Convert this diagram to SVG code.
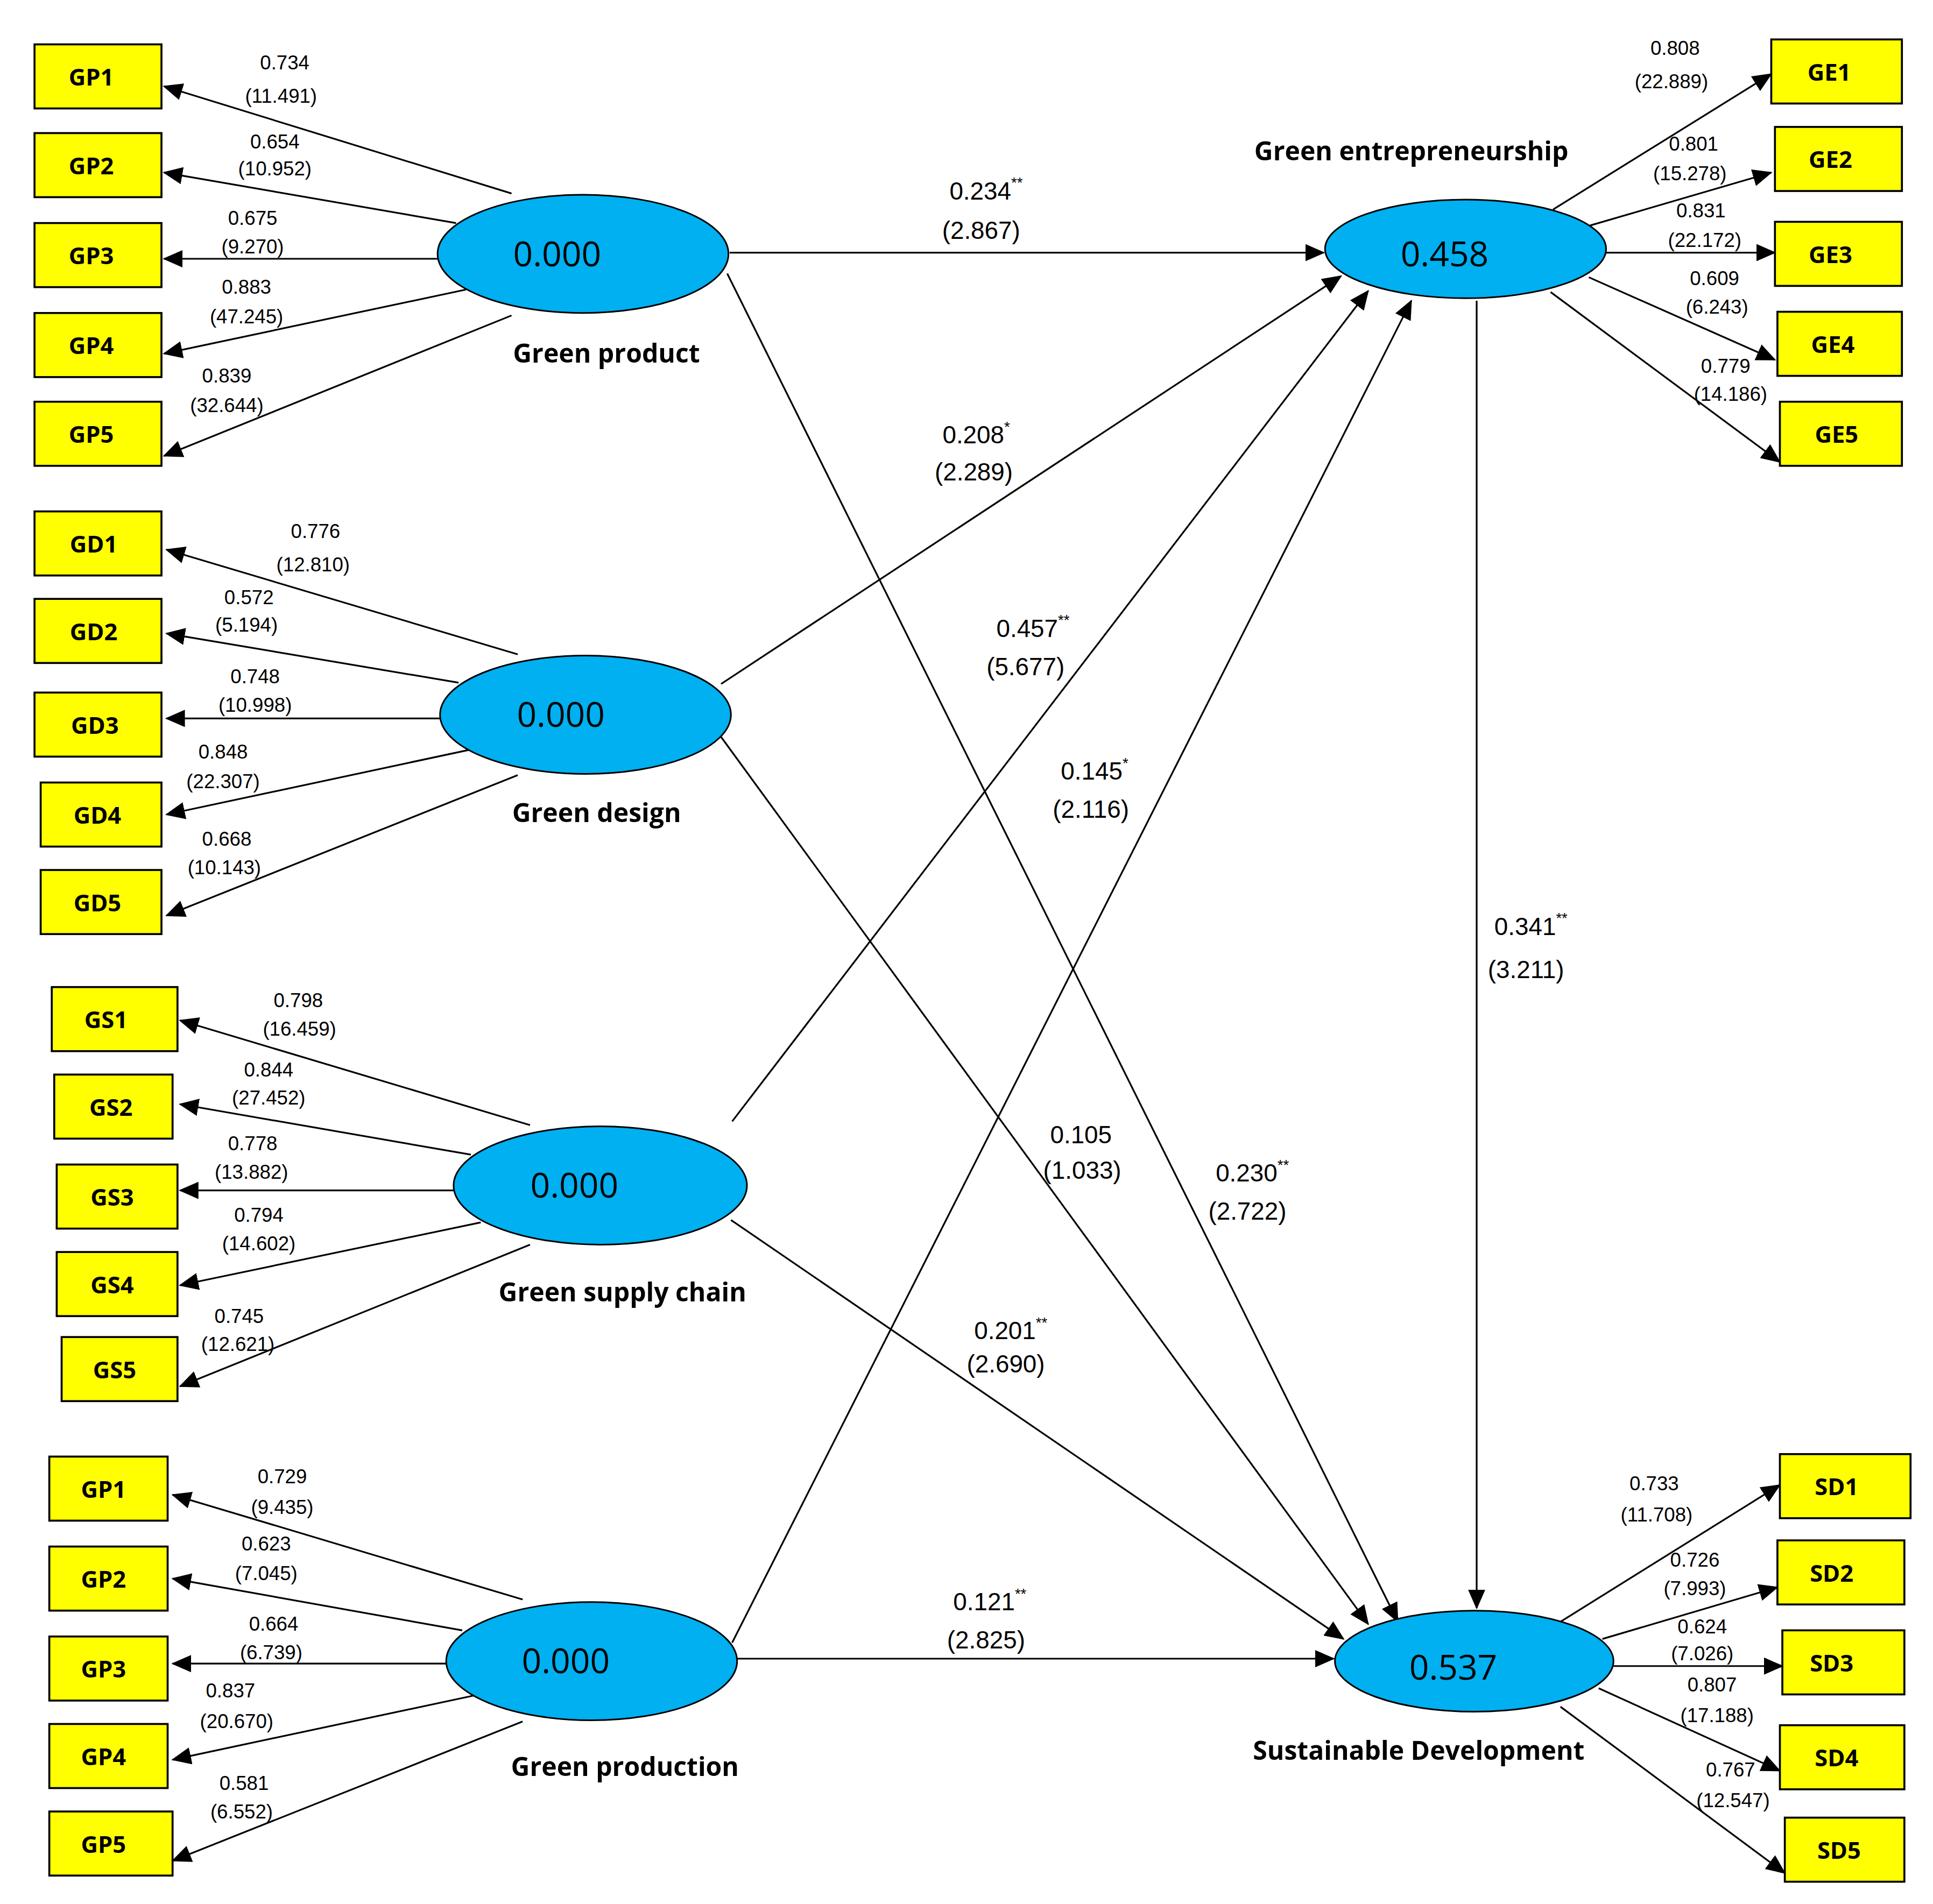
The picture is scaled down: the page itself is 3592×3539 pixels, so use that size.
<svg xmlns="http://www.w3.org/2000/svg" width="3592" height="3539" viewBox="0 0 3592 3539">
<style>
.box{fill:#ffff00;stroke:#000;stroke-width:1.6}
.bl{font-family:"Open Sans","Liberation Sans",sans-serif;font-weight:bold;font-size:19px;text-anchor:middle;dominant-baseline:central}
.ell{fill:#00b0f0;stroke:#000;stroke-width:1.3}
.ev{font-family:"Open Sans","Liberation Sans",sans-serif;font-size:28px;text-anchor:middle;dominant-baseline:central}
.nm{font-family:"Open Sans","Liberation Sans",sans-serif;font-weight:bold;font-size:21px;text-anchor:middle;dominant-baseline:central}
.lb{font-family:"Liberation Sans",sans-serif;font-size:16px;text-anchor:middle;dominant-baseline:central}
.pl{font-family:"Liberation Sans",sans-serif;font-size:20px;text-anchor:middle;dominant-baseline:central}
.sup{font-size:12px}
#conn line{stroke:#000;stroke-width:1.4;marker-end:url(#ah)}
</style>
<defs>
<marker id="ah" markerUnits="userSpaceOnUse" markerWidth="16" markerHeight="14" refX="15" refY="7" orient="auto"><path d="M0,0 L16,7 L0,14 Z" fill="#000"/></marker>
</defs>
<rect width="3592" height="3539" fill="#fff"/>
<g transform="scale(2.2905)">
<g id="conn">
<line x1="415" y1="157" x2="133" y2="70"/><line x1="370" y1="181" x2="133" y2="140"/><line x1="355" y1="210" x2="133" y2="210"/><line x1="378" y1="235" x2="133" y2="287"/><line x1="415" y1="256" x2="133" y2="370"/>
<line x1="420" y1="531" x2="135" y2="446"/><line x1="372" y1="554" x2="135" y2="514"/><line x1="357" y1="583" x2="135" y2="583"/><line x1="383" y1="608" x2="135" y2="661"/><line x1="420" y1="629" x2="135" y2="743"/>
<line x1="430" y1="913" x2="146" y2="828"/><line x1="382" y1="937" x2="146" y2="896"/><line x1="368" y1="966" x2="146" y2="966"/><line x1="390" y1="992" x2="146" y2="1043"/><line x1="430" y1="1010" x2="146" y2="1125"/>
<line x1="424" y1="1298" x2="140" y2="1213"/><line x1="375" y1="1323" x2="140" y2="1281"/><line x1="362" y1="1350" x2="140" y2="1350"/><line x1="384" y1="1376" x2="140" y2="1428"/><line x1="424" y1="1397" x2="140" y2="1510"/>
<line x1="1260" y1="170" x2="1437" y2="60"/><line x1="1290" y1="183" x2="1437" y2="140"/><line x1="1303" y1="205" x2="1440" y2="205"/><line x1="1289" y1="225" x2="1440" y2="292"/><line x1="1258" y1="237" x2="1444" y2="375"/>
<line x1="1266" y1="1316" x2="1444" y2="1205"/><line x1="1300" y1="1330" x2="1442" y2="1288"/><line x1="1309" y1="1352" x2="1446" y2="1352"/><line x1="1297" y1="1370" x2="1444" y2="1437"/><line x1="1266" y1="1385" x2="1448" y2="1520"/>
<line x1="592" y1="205" x2="1074" y2="205"/>
<line x1="585" y1="555" x2="1088" y2="224"/>
<line x1="594" y1="910" x2="1110" y2="236"/>
<line x1="594" y1="1333" x2="1145" y2="244"/>
<line x1="1198" y1="244" x2="1198" y2="1305"/>
<line x1="590" y1="222" x2="1134" y2="1316"/>
<line x1="585" y1="598" x2="1110" y2="1318"/>
<line x1="593" y1="990" x2="1090" y2="1330"/>
<line x1="598" y1="1346" x2="1082" y2="1346"/>
</g>
<g id="GP1"><rect class="box" x="28" y="36" width="103" height="52"/><text class="bl" x="74" y="62">GP1</text></g>
<g id="GP2"><rect class="box" x="28" y="108" width="103" height="52"/><text class="bl" x="74" y="134">GP2</text></g>
<g id="GP3"><rect class="box" x="28" y="181" width="103" height="52"/><text class="bl" x="74" y="207">GP3</text></g>
<g id="GP4"><rect class="box" x="28" y="254" width="103" height="52"/><text class="bl" x="74" y="280">GP4</text></g>
<g id="GP5"><rect class="box" x="28" y="326" width="103" height="52"/><text class="bl" x="74" y="352">GP5</text></g>
<g id="GD1"><rect class="box" x="28" y="415" width="103" height="52"/><text class="bl" x="76" y="441">GD1</text></g>
<g id="GD2"><rect class="box" x="28" y="486" width="103" height="52"/><text class="bl" x="76" y="512">GD2</text></g>
<g id="GD3"><rect class="box" x="28" y="562" width="103" height="52"/><text class="bl" x="77" y="588">GD3</text></g>
<g id="GD4"><rect class="box" x="33" y="635" width="98" height="52"/><text class="bl" x="79" y="661">GD4</text></g>
<g id="GD5"><rect class="box" x="33" y="706" width="98" height="52"/><text class="bl" x="79" y="732">GD5</text></g>
<g id="GS1"><rect class="box" x="42" y="801" width="102" height="52"/><text class="bl" x="86" y="827">GS1</text></g>
<g id="GS2"><rect class="box" x="44" y="872" width="96" height="52"/><text class="bl" x="90" y="898">GS2</text></g>
<g id="GS3"><rect class="box" x="46" y="945" width="98" height="52"/><text class="bl" x="91" y="971">GS3</text></g>
<g id="GS4"><rect class="box" x="46" y="1016" width="98" height="52"/><text class="bl" x="91" y="1042">GS4</text></g>
<g id="GS5"><rect class="box" x="50" y="1085" width="94" height="52"/><text class="bl" x="93" y="1111">GS5</text></g>
<g id="GPr1"><rect class="box" x="40" y="1182" width="96" height="52"/><text class="bl" x="84" y="1208">GP1</text></g>
<g id="GPr2"><rect class="box" x="40" y="1255" width="96" height="52"/><text class="bl" x="84" y="1281">GP2</text></g>
<g id="GPr3"><rect class="box" x="40" y="1328" width="96" height="52"/><text class="bl" x="84" y="1354">GP3</text></g>
<g id="GPr4"><rect class="box" x="40" y="1399" width="96" height="52"/><text class="bl" x="84" y="1425">GP4</text></g>
<g id="GPr5"><rect class="box" x="40" y="1470" width="100" height="52"/><text class="bl" x="84" y="1496">GP5</text></g>
<g id="GE1"><rect class="box" x="1437" y="32" width="106" height="52"/><text class="bl" x="1484" y="58">GE1</text></g>
<g id="GE2"><rect class="box" x="1440" y="103" width="103" height="52"/><text class="bl" x="1485" y="129">GE2</text></g>
<g id="GE3"><rect class="box" x="1440" y="180" width="103" height="52"/><text class="bl" x="1485" y="206">GE3</text></g>
<g id="GE4"><rect class="box" x="1442" y="253" width="101" height="52"/><text class="bl" x="1487" y="279">GE4</text></g>
<g id="GE5"><rect class="box" x="1444" y="326" width="99" height="52"/><text class="bl" x="1490" y="352">GE5</text></g>
<g id="SD1"><rect class="box" x="1444" y="1180" width="106" height="52"/><text class="bl" x="1490" y="1206">SD1</text></g>
<g id="SD2"><rect class="box" x="1442" y="1250" width="103" height="52"/><text class="bl" x="1486" y="1276">SD2</text></g>
<g id="SD3"><rect class="box" x="1446" y="1323" width="99" height="52"/><text class="bl" x="1486" y="1349">SD3</text></g>
<g id="SD4"><rect class="box" x="1444" y="1400" width="101" height="52"/><text class="bl" x="1490" y="1426">SD4</text></g>
<g id="SD5"><rect class="box" x="1448" y="1475" width="97" height="52"/><text class="bl" x="1492" y="1501">SD5</text></g>
<g id="GreenProduct"><ellipse class="ell" cx="473" cy="206" rx="118" ry="48"/><text class="ev" x="452" y="205">0.000</text><text class="nm" x="492" y="286">Green product</text></g>
<g id="GreenDesign"><ellipse class="ell" cx="475" cy="580" rx="118" ry="48"/><text class="ev" x="455" y="579">0.000</text><text class="nm" x="484" y="659">Green design</text></g>
<g id="GreenSupplyChain"><ellipse class="ell" cx="487" cy="962" rx="119" ry="48"/><text class="ev" x="466" y="961">0.000</text><text class="nm" x="505" y="1048">Green supply chain</text></g>
<g id="GreenProduction"><ellipse class="ell" cx="480" cy="1348" rx="118" ry="48"/><text class="ev" x="459" y="1347">0.000</text><text class="nm" x="507" y="1433">Green production</text></g>
<g id="GreenEntrepreneurship"><ellipse class="ell" cx="1189" cy="202" rx="114" ry="40"/><text class="ev" x="1172" y="205">0.458</text><text class="nm" x="1145" y="122">Green entrepreneurship</text></g>
<g id="SustainableDevelopment"><ellipse class="ell" cx="1196" cy="1348" rx="113" ry="41"/><text class="ev" x="1179" y="1352">0.537</text><text class="nm" x="1151" y="1420">Sustainable Development</text></g>
<g id="labels">
<text class="lb" x="231" y="51">0.734</text><text class="lb" x="228" y="78">(11.491)</text>
<text class="lb" x="223" y="115">0.654</text><text class="lb" x="223" y="137">(10.952)</text>
<text class="lb" x="205" y="177">0.675</text><text class="lb" x="205" y="200">(9.270)</text>
<text class="lb" x="200" y="233">0.883</text><text class="lb" x="200" y="257">(47.245)</text>
<text class="lb" x="184" y="305">0.839</text><text class="lb" x="184" y="329">(32.644)</text>
<text class="lb" x="256" y="431">0.776</text><text class="lb" x="254" y="458">(12.810)</text>
<text class="lb" x="202" y="485">0.572</text><text class="lb" x="200" y="507">(5.194)</text>
<text class="lb" x="207" y="549">0.748</text><text class="lb" x="207" y="572">(10.998)</text>
<text class="lb" x="181" y="610">0.848</text><text class="lb" x="181" y="634">(22.307)</text>
<text class="lb" x="184" y="681">0.668</text><text class="lb" x="182" y="704">(10.143)</text>
<text class="lb" x="242" y="812">0.798</text><text class="lb" x="243" y="835">(16.459)</text>
<text class="lb" x="218" y="868">0.844</text><text class="lb" x="218" y="891">(27.452)</text>
<text class="lb" x="205" y="928">0.778</text><text class="lb" x="204" y="951">(13.882)</text>
<text class="lb" x="210" y="986">0.794</text><text class="lb" x="210" y="1009">(14.602)</text>
<text class="lb" x="194" y="1068">0.745</text><text class="lb" x="193" y="1091">(12.621)</text>
<text class="lb" x="229" y="1198">0.729</text><text class="lb" x="229" y="1223">(9.435)</text>
<text class="lb" x="216" y="1253">0.623</text><text class="lb" x="216" y="1277">(7.045)</text>
<text class="lb" x="222" y="1318">0.664</text><text class="lb" x="220" y="1341">(6.739)</text>
<text class="lb" x="187" y="1372">0.837</text><text class="lb" x="192" y="1397">(20.670)</text>
<text class="lb" x="198" y="1447">0.581</text><text class="lb" x="196" y="1470">(6.552)</text>
<text class="lb" x="1359" y="39">0.808</text><text class="lb" x="1356" y="66">(22.889)</text>
<text class="lb" x="1374" y="117">0.801</text><text class="lb" x="1371" y="141">(15.278)</text>
<text class="lb" x="1380" y="171">0.831</text><text class="lb" x="1383" y="195">(22.172)</text>
<text class="lb" x="1391" y="226">0.609</text><text class="lb" x="1393" y="249">(6.243)</text>
<text class="lb" x="1400" y="297">0.779</text><text class="lb" x="1404" y="320">(14.186)</text>
<text class="lb" x="1342" y="1204">0.733</text><text class="lb" x="1344" y="1229">(11.708)</text>
<text class="lb" x="1375" y="1266">0.726</text><text class="lb" x="1375" y="1289">(7.993)</text>
<text class="lb" x="1381" y="1320">0.624</text><text class="lb" x="1381" y="1342">(7.026)</text>
<text class="lb" x="1389" y="1367">0.807</text><text class="lb" x="1393" y="1392">(17.188)</text>
<text class="lb" x="1404" y="1436">0.767</text><text class="lb" x="1406" y="1461">(12.547)</text>
<text class="pl" x="800" y="155">0.234<tspan class="sup" dy="-7">**</tspan></text><text class="pl" x="796" y="187">(2.867)</text>
<text class="pl" x="792" y="353">0.208<tspan class="sup" dy="-7">*</tspan></text><text class="pl" x="790" y="383">(2.289)</text>
<text class="pl" x="838" y="510">0.457<tspan class="sup" dy="-7">**</tspan></text><text class="pl" x="832" y="541">(5.677)</text>
<text class="pl" x="888" y="626">0.145<tspan class="sup" dy="-7">*</tspan></text><text class="pl" x="885" y="657">(2.116)</text>
<text class="pl" x="1242" y="752">0.341<tspan class="sup" dy="-7">**</tspan></text><text class="pl" x="1238" y="787">(3.211)</text>
<text class="pl" x="1016" y="952">0.230<tspan class="sup" dy="-7">**</tspan></text><text class="pl" x="1012" y="983">(2.722)</text>
<text class="pl" x="877" y="921">0.105</text><text class="pl" x="878" y="950">(1.033)</text>
<text class="pl" x="820" y="1080">0.201<tspan class="sup" dy="-7">**</tspan></text><text class="pl" x="816" y="1107">(2.690)</text>
<text class="pl" x="803" y="1300">0.121<tspan class="sup" dy="-7">**</tspan></text><text class="pl" x="800" y="1331">(2.825)</text>
</g>
</g>
</svg>
